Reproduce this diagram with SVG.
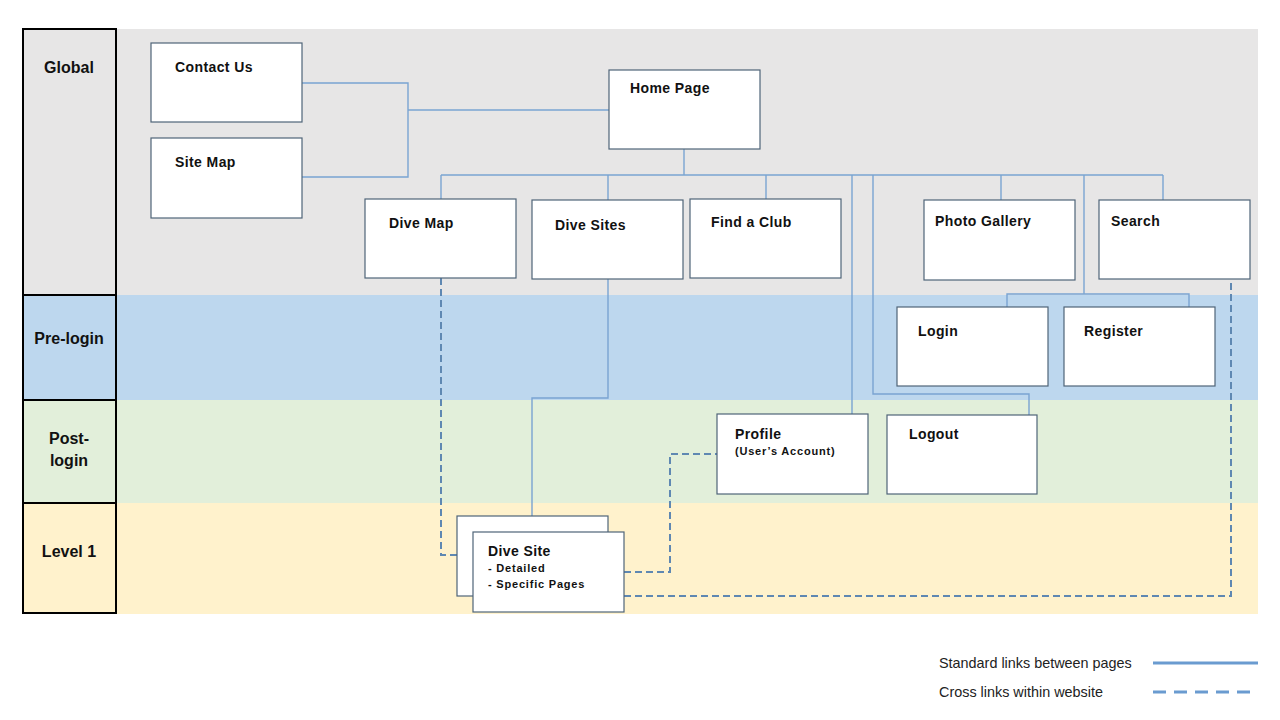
<svg xmlns="http://www.w3.org/2000/svg" width="1280" height="720" viewBox="0 0 1280 720">
  <style>
    .lane-label { font-family: "Liberation Sans", Arial, sans-serif; font-weight: bold; font-size: 16px; fill: #111; text-anchor: middle; }
    .box { fill: #ffffff; stroke: #4f6478; stroke-width: 1.2; }
    .title { font-family: "Liberation Sans", Arial, sans-serif; font-weight: bold; font-size: 14px; fill: #111; letter-spacing: 0.4px; }
    .sub { font-family: "Liberation Sans", Arial, sans-serif; font-weight: bold; font-size: 11px; fill: #111; letter-spacing: 0.8px; }
    .link { fill: none; stroke: #7aa4d2; stroke-width: 1.4; }
    .cross { fill: none; stroke: #5f88b2; stroke-width: 2; stroke-dasharray: 7 4; }
    .legend-text { font-family: "Liberation Sans", Arial, sans-serif; font-size: 14.4px; fill: #222; }
    .lane-border { fill: none; stroke: #000; stroke-width: 2; }
  </style>

  <rect x="0" y="0" width="1280" height="720" fill="#ffffff"/>

  <!-- swimlane bands -->
  <g id="lanes">
    <rect x="23" y="29" width="1235" height="266" fill="#e7e6e6"/>
    <rect x="23" y="295" width="1235" height="105" fill="#bdd7ee"/>
    <rect x="23" y="400" width="1235" height="103" fill="#e2efda"/>
    <rect x="23" y="503" width="1235" height="111" fill="#fff2cc"/>
    <rect class="lane-border" x="23" y="29" width="93" height="584"/>
    <line x1="23" y1="295" x2="116" y2="295" stroke="#000" stroke-width="2"/>
    <line x1="23" y1="400" x2="116" y2="400" stroke="#000" stroke-width="2"/>
    <line x1="23" y1="503" x2="116" y2="503" stroke="#000" stroke-width="2"/>
    <text class="lane-label" x="69" y="73">Global</text>
    <text class="lane-label" x="69" y="344">Pre-login</text>
    <text class="lane-label" x="69" y="444">Post-</text>
    <text class="lane-label" x="69" y="466">login</text>
    <text class="lane-label" x="69" y="557">Level 1</text>
  </g>

  <!-- connectors -->
  <g id="connectors">
    <!-- global utility pages to home -->
    <polyline class="link" points="302,83 408,83 408,177 302,177"/>
    <line class="link" x1="408" y1="110" x2="609" y2="110"/>
    <!-- home page bus -->
    <line class="link" x1="684" y1="149" x2="684" y2="175"/>
    <line class="link" x1="441" y1="175" x2="1163" y2="175"/>
    <line class="link" x1="441" y1="175" x2="441" y2="199"/>
    <line class="link" x1="608" y1="175" x2="608" y2="200"/>
    <line class="link" x1="766" y1="175" x2="766" y2="199"/>
    <line class="link" x1="1001" y1="175" x2="1001" y2="200"/>
    <line class="link" x1="1163" y1="175" x2="1163" y2="200"/>
    <!-- home to profile -->
    <line class="link" x1="852" y1="175" x2="852" y2="414"/>
    <!-- home to logout -->
    <polyline class="link" points="873,175 873,394 1029,394 1029,415"/>
    <!-- home to login / register -->
    <line class="link" x1="1084" y1="175" x2="1084" y2="294"/>
    <polyline class="link" points="1007,307 1007,294 1189,294 1189,307"/>
    <!-- dive sites to detail pages -->
    <polyline class="link" points="608,279 608,398 532,398 532,516"/>

    <!-- cross links -->
    <polyline class="cross" points="441,278 441,555 457,555"/>
    <polyline class="cross" points="624,572 670,572 670,454 717,454"/>
    <polyline class="cross" points="624,596 1231,596 1231,279"/>
  </g>

  <!-- pages -->
  <g id="contact-us">
    <rect class="box" x="151" y="43" width="151" height="79"/>
    <text class="title" x="175" y="72">Contact Us</text>
  </g>
  <g id="site-map">
    <rect class="box" x="151" y="138" width="151" height="80"/>
    <text class="title" x="175" y="167">Site Map</text>
  </g>
  <g id="home-page">
    <rect class="box" x="609" y="70" width="151" height="79"/>
    <text class="title" x="630" y="93">Home Page</text>
  </g>
  <g id="dive-map">
    <rect class="box" x="365" y="199" width="151" height="79"/>
    <text class="title" x="389" y="228">Dive Map</text>
  </g>
  <g id="dive-sites">
    <rect class="box" x="532" y="200" width="151" height="79"/>
    <text class="title" x="555" y="230">Dive Sites</text>
  </g>
  <g id="find-a-club">
    <rect class="box" x="690" y="199" width="151" height="79"/>
    <text class="title" x="711" y="227">Find a Club</text>
  </g>
  <g id="photo-gallery">
    <rect class="box" x="924" y="200" width="151" height="80"/>
    <text class="title" x="935" y="226">Photo Gallery</text>
  </g>
  <g id="search">
    <rect class="box" x="1099" y="200" width="151" height="79"/>
    <text class="title" x="1111" y="226">Search</text>
  </g>
  <g id="login">
    <rect class="box" x="897" y="307" width="151" height="79"/>
    <text class="title" x="918" y="336">Login</text>
  </g>
  <g id="register">
    <rect class="box" x="1064" y="307" width="151" height="79"/>
    <text class="title" x="1084" y="336">Register</text>
  </g>
  <g id="profile">
    <rect class="box" x="717" y="414" width="151" height="80"/>
    <text class="title" x="735" y="439">Profile</text>
    <text class="sub" x="735" y="455">(User’s Account)</text>
  </g>
  <g id="logout">
    <rect class="box" x="887" y="415" width="150" height="79"/>
    <text class="title" x="909" y="439">Logout</text>
  </g>
  <g id="dive-site-detail">
    <rect class="box" x="457" y="516" width="151" height="80"/>
    <rect class="box" x="473" y="532" width="151" height="80"/>
    <text class="title" x="488" y="556">Dive Site</text>
    <text class="sub" x="488" y="572">- Detailed</text>
    <text class="sub" x="488" y="588">- Specific Pages</text>
  </g>

  <!-- legend -->
  <g id="legend">
    <text class="legend-text" x="939" y="668">Standard links between pages</text>
    <line x1="1153" y1="663" x2="1258" y2="663" stroke="#6a9bd0" stroke-width="3"/>
    <text class="legend-text" x="939" y="697">Cross links within website</text>
    <line x1="1153" y1="692" x2="1250" y2="692" stroke="#6a9bd0" stroke-width="3" stroke-dasharray="13 8"/>
  </g>
</svg>
